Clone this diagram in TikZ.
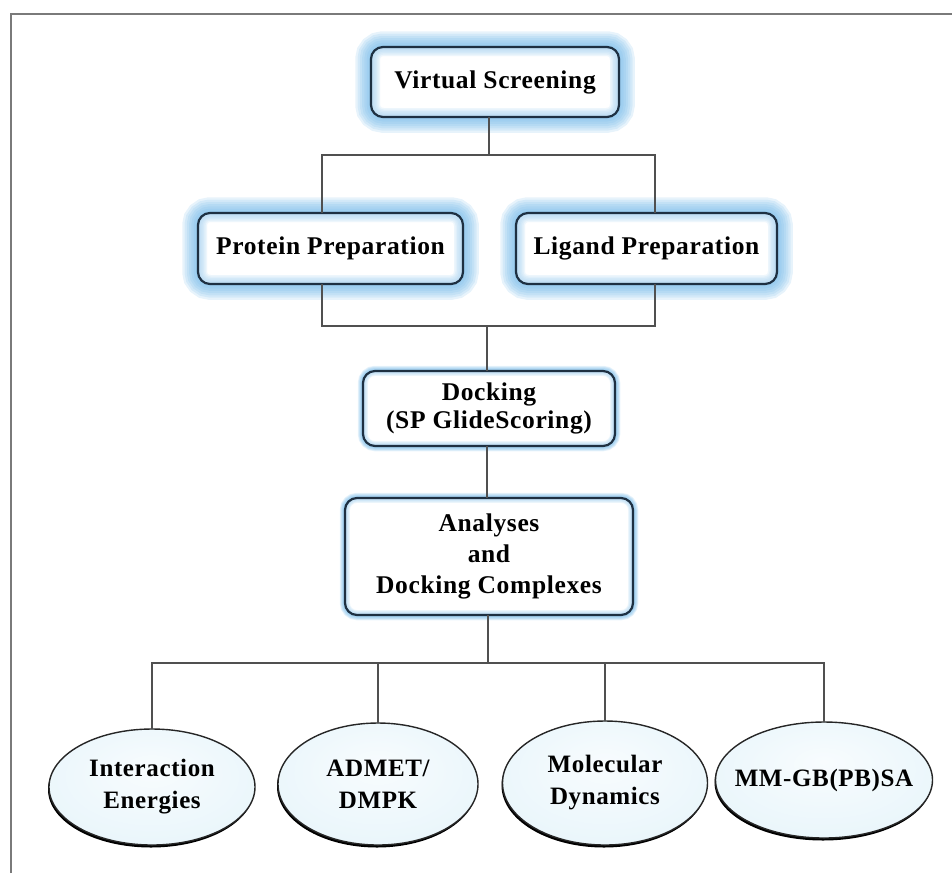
\documentclass[tikz,border=0pt]{standalone}
\usepackage{fontspec}
\setmainfont{Liberation Serif}
\newfontfamily\boxfont{Liberation Serif}[LetterSpace=2.5]
\usetikzlibrary{backgrounds,shapes.geometric,shadows}
\definecolor{glowc}{HTML}{72B8E8}
\definecolor{innerc}{HTML}{A8D4F2}
\definecolor{edgec}{HTML}{1E3042}
\definecolor{ellin}{HTML}{F8FCFE}
\definecolor{ellmid}{HTML}{EAF6FB}
\definecolor{ellout}{HTML}{CBE6F4}
\definecolor{connc}{HTML}{505050}
\definecolor{framec}{HTML}{7A7A7A}
\pgfdeclareradialshading{ellsh}{\pgfpoint{0bp}{8bp}}{color(0bp)=(ellin); color(28bp)=(ellmid); color(50bp)=(ellout)}
\tikzset{
  boxnode/.style={rectangle, rounded corners=12pt, draw=edgec, line width=2.2pt,
    outer sep=0pt, inner sep=0pt, align=center,
    font=\boxfont\bfseries\fontsize{25.5}{30}\selectfont},
  ellnode/.style={ellipse, draw=black!85, line width=1.4pt, outer sep=0pt, inner sep=0pt,
    shading=ellsh, align=center,
    drop shadow={shadow xshift=-1pt, shadow yshift=-2.5pt, fill=black, opacity=1},
    font=\boxfont\bfseries\fontsize{25}{32}\selectfont},
  conn/.style={draw=connc, line width=2pt},
}
\newcommand\glowit[3]{%
\begin{scope}[on background layer]
  \foreach \k in {7,6,...,1} {\draw[glowc, opacity=0.17, line width=\k*#2, rounded corners=12pt] (#1.south west) rectangle (#1.north east);}
  \fill[white, rounded corners=12pt] (#1.south west) rectangle (#1.north east);
  \begin{scope}
    \clip[rounded corners=12pt] (#1.south west) rectangle (#1.north east);
    \foreach \k in {6,5,...,1} {\draw[innerc, opacity=0.2, line width=\k*#3, rounded corners=12pt] (#1.south west) rectangle (#1.north east);}
  \end{scope}
\end{scope}}
\begin{document}
\begin{tikzpicture}[x=1pt,y=-1pt]
\useasboundingbox (0,0) rectangle (952,873);
\draw[framec, line width=2.5pt] (11,873) -- (11,14) -- (952,14);

\node[boxnode, minimum width=248pt, minimum height=70pt] (vs) at (495,82) {Virtual Screening};
\node[boxnode, minimum width=265pt, minimum height=71pt] (pp) at (330.5,248.5) {Protein Preparation};
\node[boxnode, minimum width=261pt, minimum height=71pt] (lp) at (646.5,248.5) {Ligand Preparation};
\node[boxnode, minimum width=252pt, minimum height=75pt, font=\boxfont\bfseries\fontsize{25.5}{28}\selectfont] (dock) at (489,408.5) {Docking\\(SP GlideScoring)};
\node[boxnode, minimum width=288pt, minimum height=117pt, font=\boxfont\bfseries\fontsize{25.5}{31}\selectfont] (ana) at (489,556.5) {Analyses\\and\\Docking Complexes};

\glowit{vs}{4.5pt}{3pt}
\glowit{pp}{4.5pt}{3pt}
\glowit{lp}{4.5pt}{3pt}
\glowit{dock}{1.5pt}{1.6pt}
\glowit{ana}{1.5pt}{1.6pt}

\node[ellnode, minimum width=206pt, minimum height=116pt] (e1) at (152,787) {Interaction\\Energies};
\node[ellnode, minimum width=200pt, minimum height=122pt] (e2) at (378,784) {ADMET/\\DMPK};
\node[ellnode, minimum width=205pt, minimum height=124pt] (e3) at (605,783) {Molecular\\Dynamics};
\node[ellnode, minimum width=217pt, minimum height=116pt] (e4) at (824,780) {\makebox[120pt]{MM-GB(PB)SA}};

\coordinate (j1) at (489,155);
\coordinate (a1) at (322,155);
\coordinate (a2) at (655,155);
\coordinate (b) at (487,326);
\coordinate (c) at (488,663);

\draw[conn] (j1 |- vs.south) -- (j1);
\draw[conn] (a1 |- pp.north) -- (a1) -- (a2) -- (a2 |- lp.north);
\draw[conn] (a1 |- pp.south) -- (a1 |- b) -- (a2 |- b) -- (a2 |- lp.south);
\draw[conn] (b) -- (b |- dock.north);
\draw[conn] (b |- dock.south) -- (b |- ana.north);
\draw[conn] (c |- ana.south) -- (c);
\draw[conn] (e1.north) -- (e1.north |- c) -- (e4.north |- c) -- (e4.north);
\draw[conn] (e2.north) -- (e2.north |- c);
\draw[conn] (e3.north) -- (e3.north |- c);
\end{tikzpicture}
\end{document}
